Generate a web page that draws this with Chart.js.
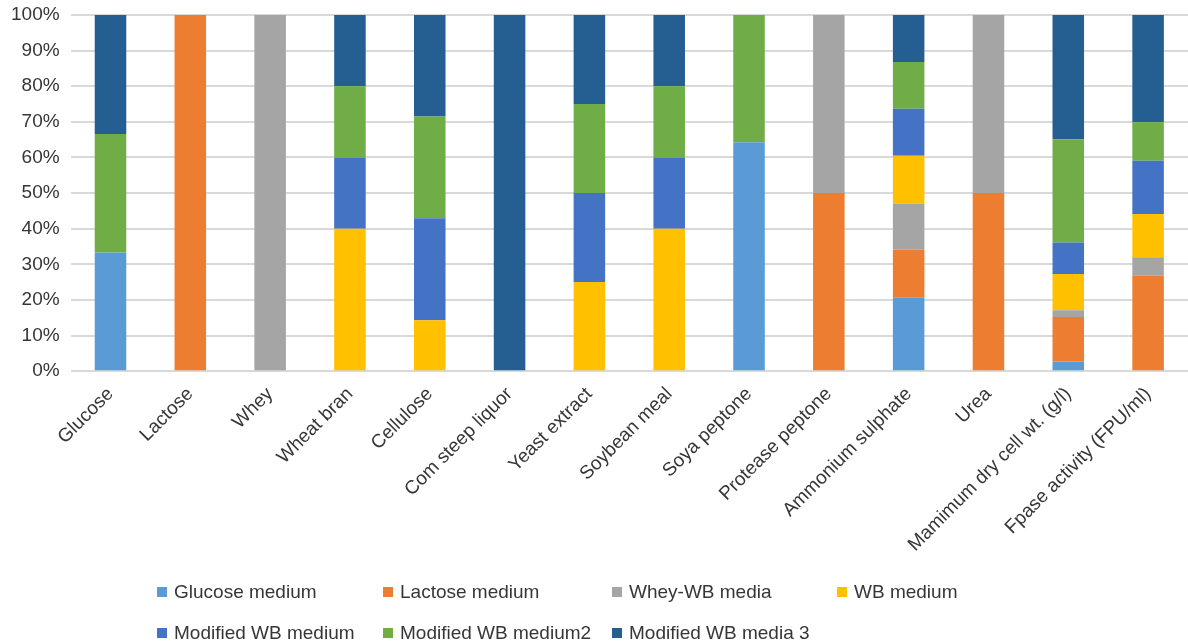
<!DOCTYPE html>
<html>
<head>
<meta charset="utf-8">
<script src="https://cdn.jsdelivr.net/npm/chart.js"></script>
<style>
  html, body { margin: 0; padding: 0; background: #fff; overflow: hidden; }
  #wrap { position: relative; width: 1188px; height: 644px; }
  #legend {
    position: absolute; left: 157px; top: 571px;
    display: grid; grid-template-columns: 226px 229px 225px 240px; grid-auto-rows: 41px;
    font-family: "Liberation Sans", Arial, sans-serif;
    font-size: 19px; color: #363636;
  }
  #legend .item { display: flex; align-items: center; white-space: nowrap; }
  #legend .box { width: 10px; height: 10px; margin-right: 7px; flex: none; }
</style>
</head>
<body>
<div id="wrap">
  <canvas id="barchart"></canvas>
  <div id="legend"></div>
</div>
<script>
// categories along the x axis
const categories = ['Glucose', 'Lactose', 'Whey', 'Wheat bran', 'Cellulose', 'Com steep liquor',
  'Yeast extract', 'Soybean meal', 'Soya peptone', 'Protease peptone', 'Ammonium sulphate',
  'Urea', 'Mamimum dry cell wt. (g/l)', 'Fpase activity (FPU/ml)'];

// share of each medium (%) per category
const glucoseMedium = [33.3, 0, 0, 0, 0, 0, 0, 0, 64.3, 0, 20.6, 0, 2.7, 0];
const lactoseMedium = [0, 100, 0, 0, 0, 0, 0, 0, 0, 50, 13.5, 50, 12.5, 26.8];
const wheyWbMedia   = [0, 0, 100, 0, 0, 0, 0, 0, 0, 50, 13.0, 50, 1.9, 5.2];
const wbMedium      = [0, 0, 0, 40, 14.3, 0, 25, 40, 0, 0, 13.4, 0, 10.2, 12.1];
const modWbMedium   = [0, 0, 0, 20, 28.6, 0, 25, 20, 0, 0, 13.2, 0, 8.8, 15.0];
const modWbMedium2  = [33.3, 0, 0, 20, 28.6, 0, 25, 20, 35.7, 0, 13.1, 0, 29.0, 10.8];
const modWbMedia3   = [33.4, 0, 0, 20, 28.5, 100, 25, 20, 0, 0, 13.2, 0, 34.9, 30.1];

const yTicks = [0, 10, 20, 30, 40, 50, 60, 70, 80, 90, 100];

const series = [
  { label: 'Glucose medium', data: glucoseMedium, color: '#5B9BD5' },
  { label: 'Lactose medium', data: lactoseMedium, color: '#ED7D31' },
  { label: 'Whey-WB media', data: wheyWbMedia, color: '#A5A5A5' },
  { label: 'WB medium', data: wbMedium, color: '#FFC000' },
  { label: 'Modified WB medium', data: modWbMedium, color: '#4472C4' },
  { label: 'Modified WB medium2', data: modWbMedium2, color: '#70AD47' },
  { label: 'Modified WB media 3', data: modWbMedia3, color: '#255E91' }
];

const font = "'Liberation Sans', Arial, sans-serif";

const data = {
  labels: categories,
  datasets: series.map(s => ({
    label: s.label,
    data: s.data,
    backgroundColor: s.color,
    borderWidth: 0,
    barPercentage: 0.395,
    categoryPercentage: 1
  }))
};

const config = {
  type: 'bar',
  data: data,
  options: {
    responsive: true,
    maintainAspectRatio: false,
    animation: false,
    layout: { padding: { top: 15, left: 0, right: 0, bottom: 84 } },
    plugins: {
      legend: { display: false },
      tooltip: { enabled: false }
    },
    scales: {
      x: {
        stacked: true,
        // rotated labels fit under the y labels, no extra room needed
        afterFit: axis => { axis.paddingLeft = 0; axis.paddingRight = 0; },
        grid: { display: false },
        border: { display: false },
        ticks: {
          color: '#363636',
          font: { family: font, size: 19 },
          minRotation: 45,
          maxRotation: 45,
          padding: 4
        }
      },
      y: {
        stacked: true,
        min: 0,
        max: 100,
        afterBuildTicks: axis => { axis.ticks = yTicks.map(v => ({ value: v })); },
        // top label may hang over the edge, the layout padding handles it
        afterFit: axis => { axis.paddingTop = 0; },
        grid: { color: '#d9d9d9', lineWidth: 2, drawTicks: false },
        border: { display: false },
        ticks: {
          color: '#363636',
          font: { family: font, size: 19 },
          padding: 11,
          callback: v => v + '%'
        }
      }
    }
  }
};

const canvas = document.getElementById('barchart');
const barchart = new Chart(canvas, config);

// legend laid out in columns like the spreadsheet one
const legendEl = document.getElementById('legend');
series.forEach(s => {
  const item = document.createElement('div');
  item.className = 'item';
  item.innerHTML = '<span class="box" style="background:' + s.color + '"></span>' + s.label;
  legendEl.appendChild(item);
});
</script>
</body>
</html>
